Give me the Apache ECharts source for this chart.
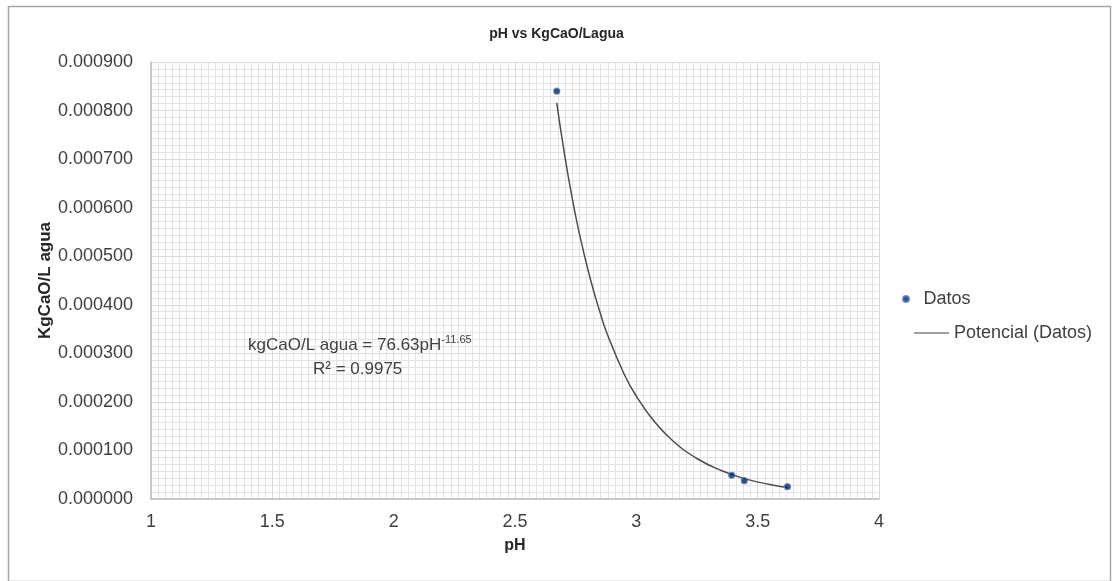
<!DOCTYPE html>
<html>
<head>
<meta charset="utf-8">
<script src="https://cdn.jsdelivr.net/npm/echarts@6/dist/echarts.min.js"></script>
<style>
html,body{margin:0;padding:0;background:#fff;}
#chart{width:1113px;height:581px;}
</style>
</head>
<body>
<div id="chart"></div>
<script>
// Measured data points (pH, kg CaO / L agua)
const datosPH = [2.672, 3.393, 3.445, 3.623];
const datosKg = [0.000840, 0.0000488, 0.0000377, 0.0000253];

// Power trendline "Potencial (Datos)"
const trendPH = [2.672, 2.70, 2.73, 2.765, 2.81, 2.85, 2.88, 2.95, 3.0, 3.07, 3.15, 3.25, 3.35, 3.45, 3.55, 3.623];
const trendKg = [0.000816, 0.000723, 0.000635, 0.000547, 0.000454, 0.000385, 0.000340, 0.000257, 0.000212, 0.000162, 0.000120, 0.0000834, 0.0000586, 0.0000415, 0.0000298, 0.0000235];

const xTicks = [1, 1.5, 2, 2.5, 3, 3.5, 4];
const yTicks = ['0.000000','0.000100','0.000200','0.000300','0.000400','0.000500','0.000600','0.000700','0.000800','0.000900'];

const titleText = 'pH vs KgCaO/Lagua';
const xName = 'pH';
const yName = 'KgCaO/L agua';
const eqMain = 'kgCaO/L agua = 76.63pH';
const eqExp = '-11.65';
const r2Text = 'R² = 0.9975';

const FONT = '"Liberation Sans", Arial, sans-serif';
const chart = echarts.init(document.getElementById('chart'), null, {renderer: 'canvas'});

const gridLine = {show: true, lineStyle: {color: '#d9d9d9', width: 1}};
const minorLine = {show: true, lineStyle: {color: '#e3e3e3', width: 1}};

chart.setOption({
  animation: false,
  backgroundColor: '#ffffff',
  textStyle: {fontFamily: FONT},
  title: {
    text: titleText, left: 'center', top: 22,
    textStyle: {fontFamily: FONT, fontSize: 14, fontWeight: 'bold', color: '#262626'}
  },
  grid: {left: 151, right: 234, top: 62, bottom: 82, containLabel: false},
  xAxis: {
    type: 'value', min: xTicks[0], max: xTicks[xTicks.length - 1], interval: 0.5,
    name: xName, nameLocation: 'middle', nameGap: 39, nameMoveOverlap: false,
    nameTextStyle: {fontFamily: FONT, fontSize: 16, fontWeight: 'bold', color: '#262626'},
    axisLine: {show: true, lineStyle: {color: '#bfbfbf', width: 1.5}},
    axisTick: {show: false},
    axisLabel: {fontFamily: FONT, fontSize: 18, color: '#404040', margin: 14,
      formatter: v => String(+v.toFixed(2))},
    splitLine: gridLine,
    minorTick: {show: false, splitNumber: 17},
    minorSplitLine: minorLine
  },
  yAxis: {
    type: 'value', min: 0, max: 0.0009, interval: 0.0001,
    name: yName, nameLocation: 'middle', nameGap: 97, nameRotate: 90, nameMoveOverlap: false,
    nameTextStyle: {fontFamily: FONT, fontSize: 17, fontWeight: 'bold', color: '#262626'},
    axisLine: {show: true, lineStyle: {color: '#bfbfbf', width: 1.5}},
    axisTick: {show: false},
    axisLabel: {fontFamily: FONT, fontSize: 18, color: '#404040', margin: 18,
      formatter: v => yTicks[Math.round(v / 0.0001)]},
    splitLine: gridLine,
    minorTick: {show: false, splitNumber: 7},
    minorSplitLine: minorLine
  },
  legend: [
    {
      orient: 'vertical', left: 897, top: 285, itemWidth: 25, itemHeight: 6,
      data: [{name: 'Datos', icon: 'circle'}],
      textStyle: {fontFamily: FONT, fontSize: 18, color: '#404040'}
    },
    {
      orient: 'vertical', left: 909, top: 319, itemWidth: 35, itemHeight: 1.5,
      data: [{name: 'Potencial (Datos)', icon: 'rect'}],
      textStyle: {fontFamily: FONT, fontSize: 18, color: '#404040'}
    }
  ],
  graphic: [
    {type: 'rect', left: 6, top: 4, z: 100, shape: {width: 1102, height: 575},
      style: {fill: 'none', stroke: '#a6a6a6', lineWidth: 1.5}, silent: true},
    {type: 'text', left: 248, top: 334, z: 100, silent: true,
      style: {
        text: '{m|' + eqMain + '}{s|' + eqExp + '}',
        rich: {
          m: {fontFamily: FONT, fontSize: 17, fill: '#404040'},
          s: {fontFamily: FONT, fontSize: 11, fill: '#404040', padding: [0, 0, 12, 0]}
        }
      }},
    {type: 'text', left: 313, top: 361, z: 100, silent: true,
      style: {text: r2Text, font: '17px ' + FONT, fill: '#404040'}}
  ],
  series: [
    {
      name: 'Potencial (Datos)', type: 'line', smooth: true, showSymbol: false, symbol: 'none',
      data: trendPH.map((x, i) => [x, trendKg[i]]),
      lineStyle: {color: '#4d4d4d', width: 1.5},
      itemStyle: {color: '#7f7f7f'}, z: 2
    },
    {
      name: 'Datos', type: 'scatter', symbol: 'circle', symbolSize: 6,
      data: datosPH.map((x, i) => [x, datosKg[i]]),
      itemStyle: {color: '#0b2545', borderColor: '#4a7cc9', borderWidth: 1.2},
      z: 3
    }
  ]
});
</script>
</body>
</html>
